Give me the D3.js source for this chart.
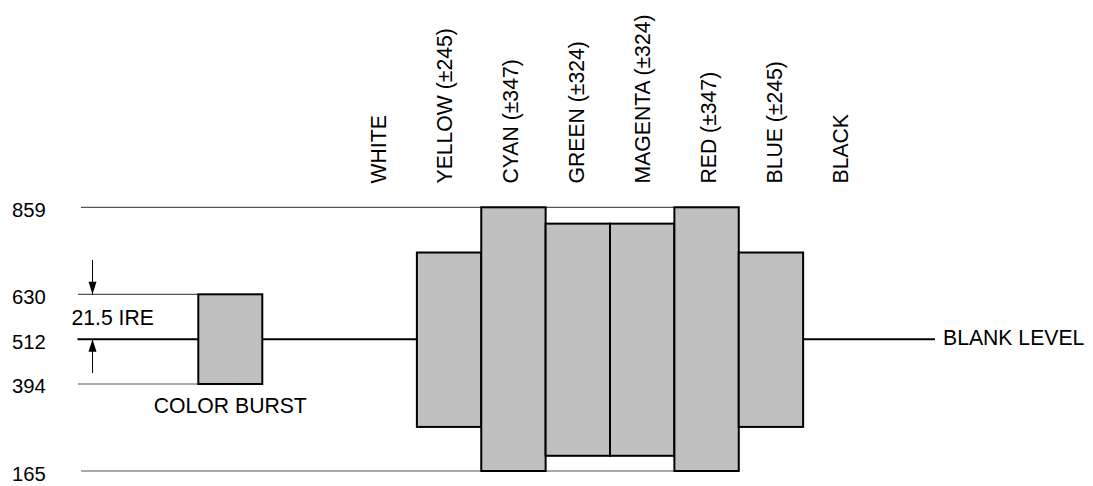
<!DOCTYPE html>
<html>
<head>
<meta charset="utf-8">
<script src="https://cdn.jsdelivr.net/npm/d3@7"></script>
<style>
  html, body { margin: 0; padding: 0; background: #fff; }
  svg { display: block; }
  text { font-family: "Liberation Sans", Arial, sans-serif; font-size: 21.2px; fill: #000; }
  text.tick { font-size: 20.3px; }
</style>
</head>
<body>
<svg id="chart" width="1093" height="486"></svg>
<script>
// ---- data ----
const categories = ["WHITE", "YELLOW (±245)", "CYAN (±347)", "GREEN (±324)", "MAGENTA (±324)", "RED (±347)", "BLUE (±245)", "BLACK"];
const barHigh = [null, 740, 859, 816, 816, 859, 740, null];
const barLow  = [null, 281, 165, 205, 205, 165, 281, null];
const tickValues = [859, 630, 512, 394, 165];
const blankLevel = 512;
const burstHigh = 630;
const burstLow = 394;
const burstLabel = "COLOR BURST";
const ireLabel = "21.5 IRE";
const blankLabel = "BLANK LEVEL";

// ---- layout ----
const svg = d3.select("#chart");
const y = d3.scaleLinear().domain([165, 859]).range([471, 207.3]);
const x = d3.scaleBand().domain(categories).range([352.5, 867.5]).padding(0);
const xLabel = d3.scalePoint().domain(categories).range([386, 848]);
const bw = x.bandwidth();
const burstX0 = 198.3, burstX1 = 262.3;

// thin reference lines
const outerLineEnd = x(categories[5]) + bw;
svg.selectAll("line.ref-outer").data([859, 165]).enter().append("line")
  .attr("x1", 81).attr("x2", outerLineEnd)
  .attr("y1", d => y(d)).attr("y2", d => y(d))
  .attr("stroke", "#555").attr("stroke-width", 1.2);
svg.selectAll("line.ref-burst").data([burstHigh, burstLow]).enter().append("line")
  .attr("x1", 78).attr("x2", burstX0)
  .attr("y1", d => y(d)).attr("y2", d => y(d))
  .attr("stroke", "#555").attr("stroke-width", 1.2);

// blank level line
svg.append("line")
  .attr("x1", 77.5).attr("x2", 935)
  .attr("y1", y(blankLevel)).attr("y2", y(blankLevel))
  .attr("stroke", "#000").attr("stroke-width", 2);

// y tick labels
svg.selectAll("text.tick").data(tickValues).enter().append("text")
  .attr("class", "tick")
  .attr("x", 12).attr("y", d => y(d) + 9.5)
  .text(d => d);

// colour burst
svg.append("rect")
  .attr("x", burstX0).attr("width", burstX1 - burstX0)
  .attr("y", y(burstHigh)).attr("height", y(burstLow) - y(burstHigh))
  .attr("fill", "#c0c0c0").attr("stroke", "#000").attr("stroke-width", 2);
svg.append("text")
  .attr("x", (burstX0 + burstX1) / 2).attr("y", 413)
  .attr("text-anchor", "middle").text(burstLabel);

// bars
const barData = categories.map((c, i) => ({c, hi: barHigh[i], lo: barLow[i]})).filter(d => d.hi !== null);
svg.selectAll("rect.bar").data(barData).enter().append("rect")
  .attr("x", d => x(d.c)).attr("width", bw)
  .attr("y", d => y(d.hi)).attr("height", d => y(d.lo) - y(d.hi))
  .attr("fill", "#c0c0c0").attr("stroke", "#000").attr("stroke-width", 2);

// category labels (rotated)
svg.selectAll("text.cat").data(categories).enter().append("text")
  .attr("transform", d => `translate(${xLabel(d)},183.5) rotate(-90)`)
  .attr("text-anchor", "start")
  .text(d => d);

// IRE arrows
const ax = 92.5;
svg.append("line").attr("x1", ax).attr("x2", ax).attr("y1", 260).attr("y2", y(burstHigh))
  .attr("stroke", "#000").attr("stroke-width", 1);
svg.append("path").attr("d", `M${ax - 4},${y(burstHigh) - 12.5} L${ax + 4},${y(burstHigh) - 12.5} L${ax},${y(burstHigh)} Z`).attr("fill", "#000");
svg.append("line").attr("x1", ax).attr("x2", ax).attr("y1", y(blankLevel)).attr("y2", 373)
  .attr("stroke", "#000").attr("stroke-width", 1);
svg.append("path").attr("d", `M${ax - 4},${y(blankLevel) + 12.5} L${ax + 4},${y(blankLevel) + 12.5} L${ax},${y(blankLevel)} Z`).attr("fill", "#000");
svg.append("text").attr("x", 71.5).attr("y", 325).text(ireLabel);

// blank level label
svg.append("text").attr("x", 943).attr("y", 345).text(blankLabel);
</script>
</body>
</html>
